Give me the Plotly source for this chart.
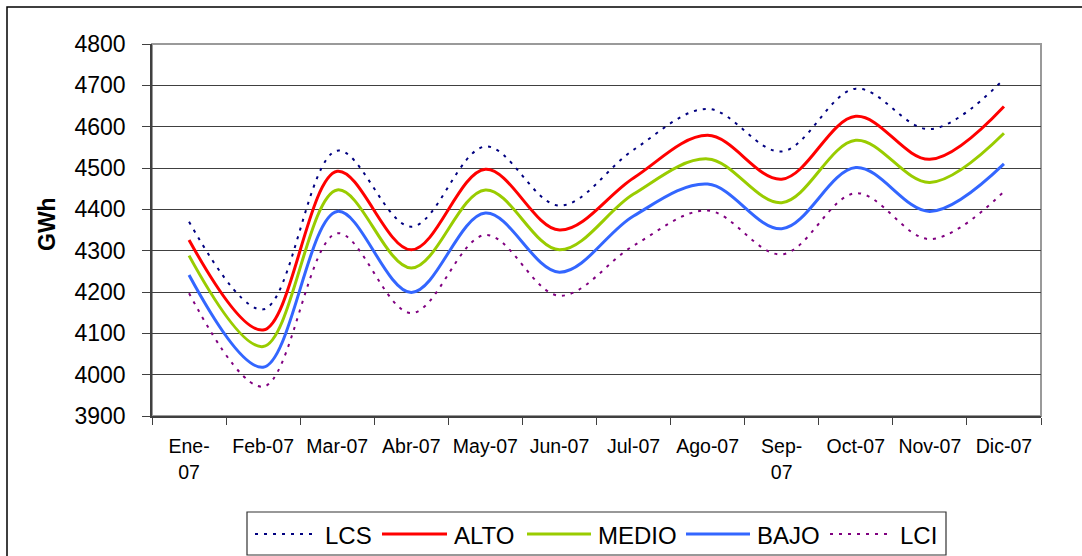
import plotly.graph_objects as go

# Monthly energy demand projections, 2007 (GWh)
months = ["Ene-07", "Feb-07", "Mar-07", "Abr-07", "May-07", "Jun-07",
          "Jul-07", "Ago-07", "Sep-07", "Oct-07", "Nov-07", "Dic-07"]
tick_labels = ["Ene-<br>07", "Feb-07", "Mar-07", "Abr-07", "May-07", "Jun-07",
               "Jul-07", "Ago-07", "Sep-<br>07", "Oct-07", "Nov-07", "Dic-07"]

lcs = [4370, 4158, 4542, 4358, 4552, 4409, 4544, 4643, 4540, 4692, 4594, 4715]
alto = [4326, 4108, 4492, 4302, 4497, 4350, 4476, 4579, 4473, 4625, 4521, 4649]
medio = [4288, 4068, 4447, 4258, 4447, 4302, 4437, 4522, 4416, 4567, 4465, 4584]
bajo = [4241, 4018, 4395, 4199, 4391, 4248, 4384, 4461, 4353, 4501, 4395, 4510]
lci = [4197, 3971, 4342, 4149, 4338, 4191, 4312, 4397, 4291, 4439, 4328, 4443]

series_names = ["LCS", "ALTO", "MEDIO", "BAJO", "LCI"]
series_values = [lcs, alto, medio, bajo, lci]
styles = [
    dict(color="#000080", width=2, dash="3px,6px"),
    dict(color="#FF0000", width=3, dash="solid"),
    dict(color="#99CC00", width=3, dash="solid"),
    dict(color="#3366FF", width=3, dash="solid"),
    dict(color="#800080", width=2, dash="3px,6px"),
]

W, H = 1082, 556
L, R, T, B = 152, 41, 44, 140
FONT = "Liberation Sans, Arial, sans-serif"


def px_x(px):
    return (px - L) / (W - L - R)


def px_y(py):
    return (H - B - py) / (H - T - B)


fig = go.Figure()
for name, vals, st in zip(series_names, series_values, styles):
    fig.add_trace(go.Scatter(
        x=months, y=vals, name=name, mode="lines",
        line=dict(color=st["color"], width=st["width"], dash=st["dash"],
                  shape="spline", smoothing=1),
        showlegend=False,
    ))

shapes = [
    # outer chart frame
    dict(type="rect", xref="paper", yref="paper",
         x0=px_x(7), x1=px_x(1095), y0=px_y(575), y1=px_y(7),
         line=dict(color="#000000", width=1.5), layer="below"),
    # plot area frame
    dict(type="rect", xref="paper", yref="paper",
         x0=0, x1=1, y0=0, y1=1,
         line=dict(color="#9a9a9a", width=2), layer="below"),
    # legend box
    dict(type="rect", xref="paper", yref="paper",
         x0=px_x(247), x1=px_x(946), y0=px_y(555), y1=px_y(512),
         line=dict(color="#333333", width=1.2), fillcolor="white"),
]

annotations = [
    dict(text="<b>GWh</b>", xref="paper", yref="paper",
         x=px_x(47), y=px_y(224), textangle=-90, showarrow=False,
         font=dict(family=FONT, size=23, color="black"),
         xanchor="center", yanchor="middle"),
]

legend_lines = [(255, 318), (382, 447), (527, 591), (686, 750), (830, 893)]
legend_y = 534
for (x0, x1), name, st in zip(legend_lines, series_names, styles):
    shapes.append(dict(type="line", xref="paper", yref="paper",
                       x0=px_x(x0), x1=px_x(x1),
                       y0=px_y(legend_y), y1=px_y(legend_y),
                       line=dict(color=st["color"], width=st["width"],
                                 dash=st["dash"])))
    annotations.append(dict(text=name, xref="paper", yref="paper",
                            x=px_x(x1 + 5), y=px_y(legend_y + 1),
                            showarrow=False, xanchor="left", yanchor="middle",
                            font=dict(family=FONT, size=24, color="black")))

fig.update_layout(
    width=W, height=H, autosize=False,
    margin=dict(l=L, r=R, t=T, b=B, pad=0),
    paper_bgcolor="white", plot_bgcolor="white",
    font=dict(family=FONT, color="black"),
    shapes=shapes, annotations=annotations,
    showlegend=False,
)
fig.update_xaxes(
    type="category", tickvals=months, ticktext=tick_labels,
    range=[-0.5, 11.5], tickson="boundaries",
    ticks="outside", ticklen=7, tickcolor="#404040", tickwidth=1,
    showline=True, linecolor="#404040", linewidth=1.5,
    showgrid=False, zeroline=False,
    tickfont=dict(family=FONT, size=19.5, color="black"),
    ticklabelstandoff=12,
)
fig.update_yaxes(
    range=[3900, 4800], dtick=100, tick0=3900,
    ticks="outside", ticklen=8, tickcolor="#404040", tickwidth=1,
    showline=True, linecolor="#404040", linewidth=1.5,
    showgrid=True, gridcolor="#404040", gridwidth=1,
    zeroline=False,
    tickfont=dict(family=FONT, size=23, color="black"),
    ticklabelstandoff=12,
)

fig.write_html("out.html")
